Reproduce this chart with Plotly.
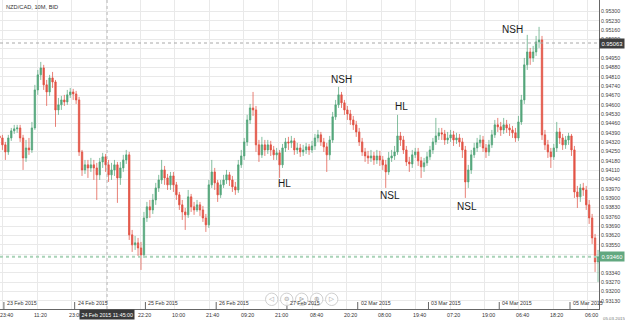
import plotly.graph_objects as go
import pandas as pd

# ---------------- DATA (NZD/CAD, hourly bars) ----------------
open_ = [0.94366, 0.94351, 0.94299, 0.94246, 0.94351, 0.94404, 0.94419, 0.94426, 0.94351, 0.94201,
         0.94276, 0.94261, 0.94426, 0.94711, 0.94824, 0.94876, 0.94749, 0.94696, 0.94801, 0.94771,
         0.94561, 0.94599, 0.94636, 0.94621, 0.94674, 0.94696, 0.94681, 0.94636, 0.94246, 0.94111,
         0.94149, 0.94126, 0.94149, 0.94126, 0.94074, 0.94171, 0.94209, 0.94149, 0.94074, 0.94111,
         0.94149, 0.94051, 0.94126, 0.94186, 0.94224, 0.93624, 0.93549, 0.93564, 0.93526, 0.93474,
         0.93751, 0.93834, 0.93811, 0.93886, 0.93976, 0.94036, 0.94111, 0.94051, 0.93999, 0.94066,
         0.93999, 0.93924, 0.93849, 0.93796, 0.93774, 0.93909, 0.93834, 0.93811, 0.93849, 0.93811,
         0.93751, 0.93699, 0.93999, 0.94096, 0.94014, 0.93924, 0.93999, 0.94036, 0.94074, 0.94036,
         0.93984, 0.93961, 0.94149, 0.94216, 0.94321, 0.94486, 0.94576, 0.94561, 0.94299, 0.94224,
         0.94299, 0.94261, 0.94299, 0.94261, 0.94224, 0.94239, 0.94149, 0.94276, 0.94321, 0.94314,
         0.94329, 0.94261, 0.94276, 0.94246, 0.94261, 0.94284, 0.94261, 0.94291, 0.94351, 0.94374,
         0.94321, 0.94284, 0.94224, 0.94336, 0.94509, 0.94599, 0.94674, 0.94614, 0.94561, 0.94531,
         0.94486, 0.94449, 0.94396, 0.94321, 0.94246, 0.94216, 0.94201, 0.94216, 0.94186, 0.94216,
         0.94186, 0.94149, 0.94096, 0.94201, 0.94216, 0.94246, 0.94366, 0.94336, 0.94261, 0.94171,
         0.94156, 0.94224, 0.94246, 0.94179, 0.94134, 0.94164, 0.94209, 0.94261, 0.94321, 0.94366,
         0.94389, 0.94381, 0.94336, 0.94351, 0.94374, 0.94336, 0.94351, 0.94321, 0.94261, 0.94021,
         0.94111, 0.94224, 0.94276, 0.94314, 0.94336, 0.94276, 0.94246, 0.94299, 0.94374, 0.94449,
         0.94434, 0.94411, 0.94449, 0.94426, 0.94411, 0.94389, 0.94351, 0.94471, 0.94636, 0.94899,
         0.94996, 0.94951, 0.94996, 0.95071, 0.95086, 0.94374, 0.94299, 0.94246, 0.94209, 0.94276,
         0.94396, 0.94351, 0.94299, 0.94336, 0.94366, 0.94261, 0.93946, 0.93909, 0.93976, 0.93961,
         0.93849, 0.93751, 0.93601, 0.93421]

high = [0.94396, 0.94374, 0.94321, 0.94374, 0.94426, 0.94449, 0.94449, 0.94449, 0.94374, 0.94336,
        0.94351, 0.94471, 0.94749, 0.94861, 0.94921, 0.94899, 0.94786, 0.94824, 0.94846, 0.94786,
        0.94651, 0.94666, 0.94674, 0.94711, 0.94726, 0.94719, 0.94704, 0.94659, 0.94261, 0.94186,
        0.94186, 0.94201, 0.94186, 0.94164, 0.94201, 0.94239, 0.94231, 0.94186, 0.94164, 0.94186,
        0.94171, 0.94171, 0.94224, 0.94261, 0.94246, 0.93661, 0.93616, 0.93601, 0.93571, 0.93796,
        0.93871, 0.93886, 0.93931, 0.94014, 0.94074, 0.94186, 0.94141, 0.94081, 0.94096, 0.94096,
        0.94021, 0.93946, 0.93886, 0.93826, 0.93961, 0.93931, 0.93871, 0.93886, 0.93871, 0.93841,
        0.93781, 0.94036, 0.94186, 0.94126, 0.94036, 0.94036, 0.94074, 0.94111, 0.94096, 0.94066,
        0.94021, 0.94186, 0.94261, 0.94351, 0.94524, 0.94606, 0.94696, 0.94591, 0.94336, 0.94359,
        0.94336, 0.94336, 0.94329, 0.94291, 0.94276, 0.94261, 0.94306, 0.94351, 0.94359, 0.94366,
        0.94351, 0.94314, 0.94306, 0.94299, 0.94314, 0.94306, 0.94329, 0.94381, 0.94411, 0.94396,
        0.94351, 0.94314, 0.94366, 0.94546, 0.94636, 0.94734, 0.94696, 0.94636, 0.94591, 0.94561,
        0.94516, 0.94479, 0.94426, 0.94351, 0.94276, 0.94254, 0.94261, 0.94246, 0.94261, 0.94254,
        0.94216, 0.94186, 0.94246, 0.94261, 0.94291, 0.94524, 0.94396, 0.94366, 0.94291, 0.94209,
        0.94261, 0.94276, 0.94276, 0.94209, 0.94201, 0.94246, 0.94291, 0.94351, 0.94501, 0.94426,
        0.94426, 0.94411, 0.94396, 0.94411, 0.94404, 0.94389, 0.94381, 0.94351, 0.94291, 0.94149,
        0.94261, 0.94314, 0.94351, 0.94374, 0.94366, 0.94306, 0.94336, 0.94411, 0.94486, 0.94501,
        0.94471, 0.94501, 0.94486, 0.94456, 0.94441, 0.94426, 0.94516, 0.94674, 0.94951, 0.95124,
        0.95026, 0.95041, 0.95116, 0.95184, 0.95116, 0.94411, 0.94336, 0.94276, 0.94306, 0.94471,
        0.94426, 0.94381, 0.94366, 0.94389, 0.94381, 0.94291, 0.93991, 0.94006, 0.94014, 0.93991,
        0.93886, 0.93781, 0.93631, 0.93511]

low = [0.94321, 0.94261, 0.94186, 0.94224, 0.94329, 0.94381, 0.94389, 0.94321, 0.94111, 0.94171,
       0.94224, 0.94239, 0.94411, 0.94674, 0.94786, 0.94711, 0.94591, 0.94666, 0.94726, 0.94434,
       0.94524, 0.94561, 0.94591, 0.94599, 0.94651, 0.94636, 0.94606, 0.94216, 0.94066, 0.94081,
       0.94051, 0.94096, 0.94036, 0.93886, 0.94036, 0.94126, 0.94096, 0.94021, 0.94036, 0.94066,
       0.93864, 0.93999, 0.94096, 0.94156, 0.93586, 0.93496, 0.93511, 0.93466, 0.93361, 0.93451,
       0.93721, 0.93751, 0.93781, 0.93849, 0.93946, 0.94006, 0.93999, 0.93961, 0.93961, 0.93946,
       0.93886, 0.93811, 0.93736, 0.93661, 0.93751, 0.93796, 0.93774, 0.93796, 0.93766, 0.93721,
       0.93646, 0.93676, 0.93976, 0.93961, 0.93871, 0.93901, 0.93976, 0.94006, 0.93991, 0.93946,
       0.93924, 0.93939, 0.94126, 0.94186, 0.94291, 0.94456, 0.94516, 0.94246, 0.94171, 0.94201,
       0.94216, 0.94231, 0.94216, 0.94186, 0.94186, 0.94051, 0.94126, 0.94246, 0.94261, 0.94276,
       0.94224, 0.94231, 0.94209, 0.94216, 0.94231, 0.94224, 0.94239, 0.94261, 0.94321, 0.94291,
       0.94246, 0.94096, 0.94186, 0.94314, 0.94486, 0.94576, 0.94576, 0.94524, 0.94486, 0.94449,
       0.94411, 0.94359, 0.94291, 0.94216, 0.94171, 0.94156, 0.94171, 0.94149, 0.94156, 0.94141,
       0.94111, 0.93976, 0.94074, 0.94171, 0.94186, 0.94224, 0.94291, 0.94231, 0.94141, 0.94096,
       0.94126, 0.94201, 0.94141, 0.94051, 0.94096, 0.94141, 0.94186, 0.94231, 0.94299, 0.94336,
       0.94336, 0.94299, 0.94306, 0.94321, 0.94291, 0.94306, 0.94284, 0.94201, 0.93901, 0.93976,
       0.94081, 0.94201, 0.94246, 0.94284, 0.94246, 0.94201, 0.94216, 0.94276, 0.94351, 0.94396,
       0.94366, 0.94381, 0.94389, 0.94366, 0.94351, 0.94321, 0.94329, 0.94449, 0.94606, 0.94861,
       0.94899, 0.94921, 0.94966, 0.95026, 0.94336, 0.94261, 0.94201, 0.94126, 0.94186, 0.94246,
       0.94306, 0.94261, 0.94269, 0.94299, 0.94216, 0.93901, 0.93826, 0.93871, 0.93916, 0.93811,
       0.93706, 0.93556, 0.93346, 0.93271]

close = [0.94351, 0.94299, 0.94246, 0.94351, 0.94404, 0.94419, 0.94426, 0.94351, 0.94201, 0.94276,
         0.94261, 0.94426, 0.94711, 0.94824, 0.94876, 0.94749, 0.94696, 0.94801, 0.94771, 0.94561,
         0.94599, 0.94636, 0.94621, 0.94674, 0.94696, 0.94681, 0.94636, 0.94246, 0.94111, 0.94149,
         0.94126, 0.94149, 0.94126, 0.94074, 0.94171, 0.94209, 0.94149, 0.94074, 0.94111, 0.94149,
         0.94051, 0.94126, 0.94186, 0.94224, 0.93624, 0.93549, 0.93564, 0.93526, 0.93474, 0.93751,
         0.93834, 0.93811, 0.93886, 0.93976, 0.94036, 0.94111, 0.94051, 0.93999, 0.94066, 0.93999,
         0.93924, 0.93849, 0.93796, 0.93774, 0.93909, 0.93834, 0.93811, 0.93849, 0.93811, 0.93751,
         0.93699, 0.93999, 0.94096, 0.94014, 0.93924, 0.93999, 0.94036, 0.94074, 0.94036, 0.93984,
         0.93961, 0.94149, 0.94216, 0.94321, 0.94486, 0.94576, 0.94561, 0.94299, 0.94224, 0.94299,
         0.94261, 0.94299, 0.94261, 0.94224, 0.94239, 0.94149, 0.94276, 0.94321, 0.94314, 0.94329,
         0.94261, 0.94276, 0.94246, 0.94261, 0.94284, 0.94261, 0.94291, 0.94351, 0.94374, 0.94321,
         0.94284, 0.94224, 0.94336, 0.94509, 0.94599, 0.94674, 0.94614, 0.94561, 0.94531, 0.94486,
         0.94449, 0.94396, 0.94321, 0.94246, 0.94216, 0.94201, 0.94216, 0.94186, 0.94216, 0.94186,
         0.94149, 0.94096, 0.94201, 0.94216, 0.94246, 0.94366, 0.94336, 0.94261, 0.94171, 0.94156,
         0.94224, 0.94246, 0.94179, 0.94134, 0.94164, 0.94209, 0.94261, 0.94321, 0.94366, 0.94389,
         0.94381, 0.94336, 0.94351, 0.94374, 0.94336, 0.94351, 0.94321, 0.94261, 0.94021, 0.94111,
         0.94224, 0.94276, 0.94314, 0.94336, 0.94276, 0.94246, 0.94299, 0.94374, 0.94449, 0.94434,
         0.94411, 0.94449, 0.94426, 0.94411, 0.94389, 0.94351, 0.94471, 0.94636, 0.94899, 0.94996,
         0.94951, 0.94996, 0.95071, 0.95086, 0.94374, 0.94299, 0.94246, 0.94209, 0.94276, 0.94396,
         0.94351, 0.94299, 0.94336, 0.94366, 0.94261, 0.93946, 0.93909, 0.93976, 0.93961, 0.93849,
         0.93751, 0.93601, 0.93421, 0.93460]

time_tick_times = ["2015-02-22 23:40", "2015-02-23 11:20", "2015-02-23 23:00", "2015-02-24 10:40",
                   "2015-02-24 22:20", "2015-02-25 10:00", "2015-02-25 21:40", "2015-02-26 09:20",
                   "2015-02-26 21:00", "2015-02-27 08:40", "2015-02-27 20:20", "2015-03-02 08:00",
                   "2015-03-02 19:40", "2015-03-03 07:20", "2015-03-03 19:00", "2015-03-04 06:40",
                   "2015-03-04 18:20", "2015-03-05 06:00"]
time_tick_labels = ["23:40", "11:20", "23:00", "10:40", "22:20", "10:00", "21:40", "09:20", "21:00",
                    "08:40", "20:20", "08:00", "19:40", "07:20", "19:00", "06:40", "18:20", "06:00"]
date_tick_times = ["2015-02-23", "2015-02-24", "2015-02-25", "2015-02-26", "2015-02-27",
                   "2015-03-02", "2015-03-03", "2015-03-04", "2015-03-05"]
date_tick_labels = ["23 Feb 2015", "24 Feb 2015", "25 Feb 2015", "26 Feb 2015", "27 Feb 2015",
                    "02 Mar 2015", "03 Mar 2015", "04 Mar 2015", "05 Mar 2015"]
price_tick_labels = ["0.95300", "0.95230", "0.95160", "0.95090", "0.95020", "0.94950", "0.94880",
                     "0.94810", "0.94740", "0.94670", "0.94600", "0.94530", "0.94460", "0.94390",
                     "0.94320", "0.94250", "0.94180", "0.94110", "0.94040", "0.93970", "0.93900",
                     "0.93830", "0.93760", "0.93690", "0.93620", "0.93550", "0.93480", "0.93410",
                     "0.93340", "0.93270", "0.93200", "0.93130"]
hidden_price_labels = ["0.95020", "0.93410"]

markers_text = ["NSH", "HL", "HL", "NSL", "NSL", "NSH"]
markers_time = ["2015-02-27 18:20", "2015-03-02 15:00", "2015-02-26 23:20",
                "2015-03-02 11:00", "2015-03-03 13:00", "2015-03-04 04:20"]
markers_price = [0.94786, 0.94584, 0.94006, 0.93916, 0.93834, 0.95161]

crosshair_price = 0.95063
last_price = 0.93460
crosshair_time = "2015-02-24 11:00"
crosshair_label = "24 Feb 2015 11:45:00"

# ---------------- time axis (trading minutes; market shut Fri 22:00 -> Sun 22:00) ----------------
ORIGIN = pd.Timestamp("2015-02-22 22:00")
WEEKEND_END = pd.Timestamp("2015-03-01 22:00")


def tmin(ts):
    ts = pd.Timestamp(ts)
    m = (ts - ORIGIN).total_seconds() / 60.0
    if ts >= WEEKEND_END:
        m -= 48 * 60
    return m


week1 = list(pd.date_range("2015-02-22 22:00", "2015-02-27 21:00", freq="h"))
week2 = list(pd.date_range("2015-03-01 22:00", periods=len(close) - len(week1), freq="h"))
bar_times = week1 + week2
bar_x = [tmin(t) + 30 for t in bar_times]

# ---------------- layout geometry ----------------
W, H = 625, 325
PL, PR, PT, PB = 0, 599, 0, 309
PW, PH = PR - PL, PB - PT


def xp(px):
    return (px - PL) / PW


def yp(py):
    return 1 - (py - PT) / PH


FONT = "Liberation Sans, Arial, sans-serif"
GRID = "#e9e9e9"
AXIS = "#666666"

fig = go.Figure()
fig.add_trace(go.Candlestick(
    x=bar_x, open=open_, high=high, low=low, close=close,
    increasing=dict(line=dict(color="#4fa377", width=0.7), fillcolor="#58a87e"),
    decreasing=dict(line=dict(color="#e04a3c", width=0.7), fillcolor="#e45a4c"),
    whiskerwidth=0, hoverinfo="skip", showlegend=False,
))

shapes = []
annotations = []

# crosshair lines and last price line
shapes.append(dict(type="line", xref="paper", yref="y", x0=0, x1=1, y0=crosshair_price, y1=crosshair_price,
                   line=dict(color="#a8a8a8", width=1, dash="dot"), layer="above"))
shapes.append(dict(type="line", xref="paper", yref="y", x0=0, x1=1, y0=last_price, y1=last_price,
                   line=dict(color="#a9d3b8", width=2, dash="dot"), layer="above"))
shapes.append(dict(type="line", xref="x", yref="paper", x0=tmin(crosshair_time), x1=tmin(crosshair_time),
                   y0=0, y1=1, line=dict(color="#b8b8b8", width=1, dash="dot"), layer="above"))

# date ticks + labels (inside plot, above axis)
for t, lab in zip(date_tick_times, date_tick_labels):
    shapes.append(dict(type="line", xref="x", yref="paper", x0=tmin(t), x1=tmin(t),
                       y0=0, y1=7 / PH, line=dict(color=AXIS, width=1)))
    annotations.append(dict(x=tmin(t), y=yp(303.3), xref="x", yref="paper", text=lab, showarrow=False,
                            xanchor="left", yanchor="middle", xshift=1,
                            font=dict(family=FONT, size=5.3, color="#333333")))

# time labels below the axis
for t, lab in zip(time_tick_times, time_tick_labels):
    annotations.append(dict(x=tmin(t), y=yp(314.5), xref="x", yref="paper", text=lab, showarrow=False,
                            xanchor="center", yanchor="middle", xshift=3.5,
                            font=dict(family=FONT, size=5.3, color="#333333")))

# swing markers
for txt, t, p in zip(markers_text, markers_time, markers_price):
    annotations.append(dict(x=tmin(t), y=p, xref="x", yref="y", text=txt, showarrow=False,
                            xanchor="center", yanchor="middle",
                            font=dict(family=FONT, size=10, color="#1a1a1a")))

# title
annotations.append(dict(x=xp(4), y=yp(7.3), xref="paper", yref="paper", text="NZD/CAD, 10M, BID",
                        showarrow=False, xanchor="left", yanchor="middle",
                        font=dict(family=FONT, size=5.7, color="#333333")))

# price boxes on the right scale
annotations.append(dict(x=1, y=crosshair_price, xref="paper", yref="y", text="0.95063", showarrow=False,
                        xanchor="left", yanchor="middle", xshift=0, bgcolor="#3d3d3d", borderpad=1.5,
                        font=dict(family=FONT, size=5.8, color="#ffffff")))
annotations.append(dict(x=1, y=last_price, xref="paper", yref="y", text="0.93460", showarrow=False,
                        xanchor="left", yanchor="middle", xshift=0, bgcolor="#62a880", borderpad=1.5,
                        font=dict(family=FONT, size=5.8, color="#ffffff")))

# crosshair time box
annotations.append(dict(x=tmin(crosshair_time), y=yp(314.5), xref="x", yref="paper", text=crosshair_label,
                        showarrow=False, xanchor="center", yanchor="middle", bgcolor="#3a3a3a", borderpad=1.5,
                        font=dict(family=FONT, size=5.3, color="#ffffff")))

# bottom-right date stamp
annotations.append(dict(x=xp(601), y=yp(318.5), xref="paper", yref="paper", text="05.03.2015",
                        showarrow=False, xanchor="left", yanchor="middle",
                        font=dict(family=FONT, size=4.4, color="#777777")))

# navigation buttons
btn_x = [271.7, 286.7, 301.7, 316.7, 331.7]
btn_glyph = ["◁", "⊖", "⊳", "⊕", "▷"]
for cx, g in zip(btn_x, btn_glyph):
    r = 6.2
    shapes.append(dict(type="circle", xref="paper", yref="paper", x0=xp(cx - r), x1=xp(cx + r),
                       y0=yp(299.3 + r), y1=yp(299.3 - r), line=dict(color="#cfcfcf", width=1),
                       fillcolor="rgba(255,255,255,0.85)", layer="above"))
    annotations.append(dict(x=xp(cx), y=yp(299.3), xref="paper", yref="paper", text=g, showarrow=False,
                            xanchor="center", yanchor="middle",
                            font=dict(family="DejaVu Sans", size=6.5, color="#9a9a9a")))

ytickvals = [float(s) for s in price_tick_labels]
yticktext = ["" if s in hidden_price_labels else s for s in price_tick_labels]

y_top = 0.95063 + 43 * 0.000075
y_bot = y_top - PH * 0.000075

fig.update_layout(
    width=W, height=H,
    margin=dict(l=PL, r=W - PR, t=PT, b=H - PB, pad=0),
    paper_bgcolor="white", plot_bgcolor="white",
    showlegend=False, hovermode=False,
    shapes=shapes, annotations=annotations,
    xaxis=dict(range=[tmin("2015-02-22 22:40:42"), 12230], tickvals=[tmin(t) for t in time_tick_times],
               showticklabels=False, showgrid=True, gridcolor=GRID, gridwidth=1, zeroline=False,
               showline=True, linecolor=AXIS, linewidth=1, ticks="", rangeslider=dict(visible=False),
               fixedrange=True),
    yaxis=dict(range=[y_bot, y_top], side="right", tickvals=ytickvals, ticktext=yticktext,
               showgrid=True, gridcolor=GRID, gridwidth=1, zeroline=False,
               showline=True, linecolor=AXIS, linewidth=1, ticks="",
               tickfont=dict(family=FONT, size=5.3, color="#444444"), fixedrange=True),
)

fig.write_html("out.html", config={"displayModeBar": False, "staticPlot": True})
